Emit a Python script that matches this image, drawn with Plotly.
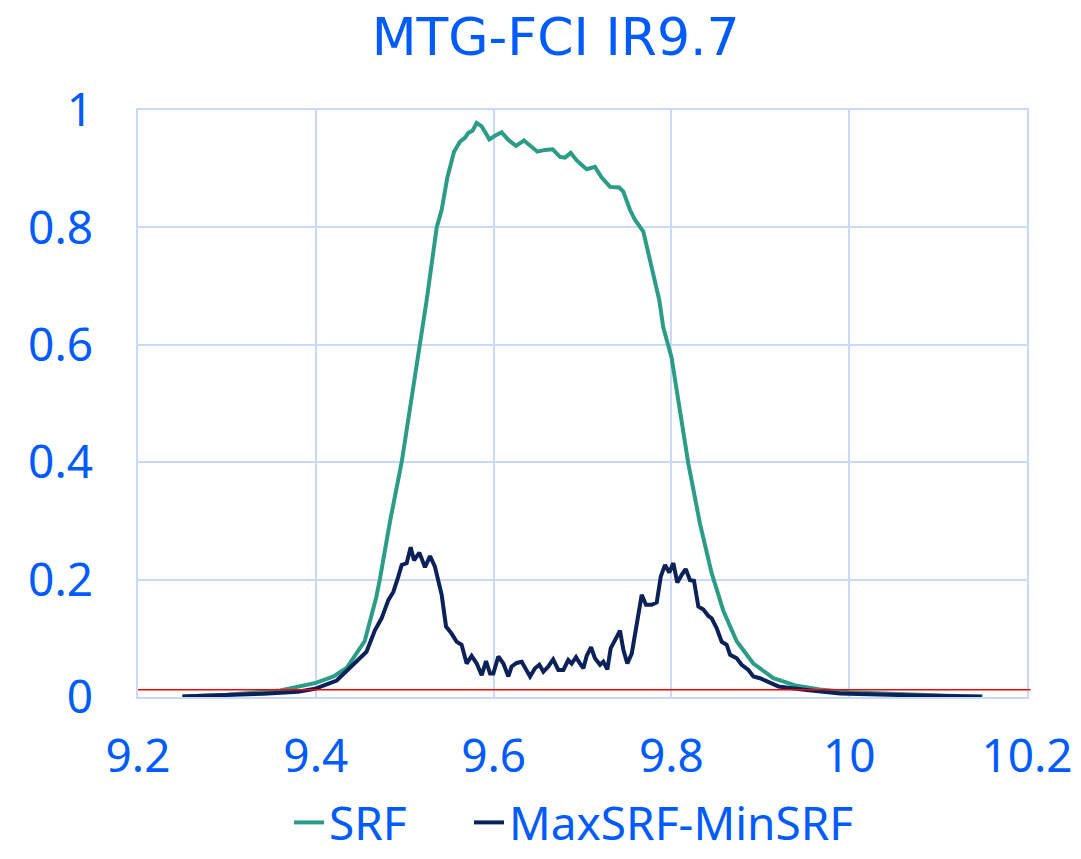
import plotly.graph_objects as go

# SRF (green) digitised
srf_wl = [9.25, 9.30, 9.36, 9.40, 9.42, 9.435, 9.455, 9.468, 9.472, 9.4836, 9.4966, 9.507,
          9.5165, 9.5247, 9.536, 9.5416, 9.548, 9.551, 9.5555, 9.5622, 9.568, 9.5716, 9.5765,
          9.581, 9.5866, 9.5903, 9.5952, 9.6016, 9.609, 9.6166, 9.6252, 9.6342, 9.641, 9.6492,
          9.6578, 9.6665, 9.6747, 9.6803, 9.6867, 9.6935, 9.7047, 9.714, 9.7216, 9.731, 9.7414,
          9.7459, 9.7534, 9.759, 9.7684, 9.775, 9.7864, 9.7908, 9.8002, 9.8096, 9.819, 9.8322,
          9.8453, 9.8584, 9.8734, 9.8922, 9.9147, 9.941, 9.967, 10.0, 10.03, 10.07, 10.11, 10.15]
srf_val = [0.001, 0.004, 0.011, 0.024, 0.035, 0.05, 0.095, 0.17, 0.2, 0.3, 0.4, 0.5,
           0.6, 0.676, 0.8, 0.83, 0.885, 0.903, 0.929, 0.946, 0.953, 0.961, 0.965,
           0.978, 0.972, 0.963, 0.950, 0.956, 0.962, 0.949, 0.939, 0.948, 0.939, 0.929,
           0.932, 0.933, 0.920, 0.919, 0.927, 0.914, 0.899, 0.903, 0.885, 0.869, 0.868,
           0.861, 0.830, 0.813, 0.793, 0.750, 0.676, 0.630, 0.578, 0.488, 0.398, 0.295,
           0.211, 0.147, 0.095, 0.057, 0.032, 0.019, 0.013, 0.008, 0.006, 0.004, 0.002, 0.001]

# MaxSRF-MinSRF (navy) digitised
diff_wl = [9.25, 9.30, 9.341, 9.38, 9.399, 9.4235, 9.4385, 9.4497, 9.457, 9.4666, 9.474, 9.4816,
           9.4872, 9.4928, 9.4966, 9.5022, 9.5067, 9.5105, 9.5165, 9.5228, 9.5285, 9.534, 9.5416,
           9.5465, 9.5528, 9.5585, 9.564, 9.5697, 9.5753, 9.581, 9.5866, 9.5915, 9.596, 9.5997,
           9.6053, 9.611, 9.6166, 9.6203, 9.626, 9.6316, 9.637, 9.641, 9.6466, 9.6515, 9.656,
           9.6616, 9.667, 9.6728, 9.6785, 9.684, 9.6878, 9.6927, 9.6972, 9.701, 9.7047, 9.7096,
           9.714, 9.7197, 9.7234, 9.728, 9.7317, 9.7366, 9.7422, 9.746, 9.7504, 9.7554, 9.761,
           9.7666, 9.7714, 9.7778, 9.7835, 9.788, 9.7928, 9.7976, 9.8022, 9.8066, 9.8116, 9.8161,
           9.8209, 9.8254, 9.8303, 9.836, 9.8416, 9.8453, 9.851, 9.8566, 9.8622, 9.866, 9.8735,
           9.879, 9.8866, 9.8922, 9.8997, 9.911, 9.9204, 9.952, 9.9897, 10.065, 10.149]
diff_val = [0.001, 0.003, 0.0055, 0.009, 0.014, 0.028, 0.051, 0.066, 0.077, 0.114, 0.134, 0.165,
            0.179, 0.205, 0.225, 0.228, 0.255, 0.233, 0.246, 0.221, 0.240, 0.222, 0.174,
            0.120, 0.108, 0.094, 0.089, 0.057, 0.070, 0.057, 0.037, 0.061, 0.040, 0.040,
            0.069, 0.057, 0.035, 0.052, 0.058, 0.060, 0.046, 0.035, 0.049, 0.055, 0.043,
            0.052, 0.064, 0.046, 0.046, 0.063, 0.057, 0.068, 0.057, 0.049, 0.070, 0.085,
            0.066, 0.055, 0.060, 0.047, 0.083, 0.097, 0.113, 0.080, 0.057, 0.074, 0.120,
            0.174, 0.157, 0.157, 0.161, 0.205, 0.225, 0.212, 0.228, 0.195, 0.208, 0.218,
            0.199, 0.198, 0.154, 0.149, 0.138, 0.134, 0.117, 0.094, 0.089, 0.072, 0.066,
            0.055, 0.046, 0.035, 0.032, 0.024, 0.018, 0.012, 0.006, 0.003, 0.0005]

threshold = 0.0125
x_ticks = [9.2, 9.4, 9.6, 9.8, 10.0, 10.2]
x_labels = ["9.2", "9.4", "9.6", "9.8", "10", "10.2"]
y_ticks = [0, 0.2, 0.4, 0.6, 0.8, 1.0]
y_labels = ["0", "0.2", "0.4", "0.6", "0.8", "1"]

BLUE = "#005BFF"
GRID = "#C8D9FA"
FONT = "Noto Sans"

fig = go.Figure()
fig.add_trace(go.Scatter(x=srf_wl, y=srf_val, mode="lines", name="SRF", legend="legend",
                         line=dict(color="#2B9C86", width=4)))
fig.add_trace(go.Scatter(x=diff_wl, y=diff_val, mode="lines", name="MaxSRF-MinSRF",
                         legend="legend2", line=dict(color="#0B2159", width=4)))

fig.add_shape(type="line", xref="paper", yref="y", x0=0, x1=1.004,
              y0=threshold, y1=threshold, line=dict(color="#FF0000", width=1.5))

leg_common = dict(orientation="h", xref="container", yref="container",
                  xanchor="left", y=0.0, yanchor="bottom",
                  font=dict(size=46, color=BLUE, family=FONT), bgcolor="rgba(0,0,0,0)",
                  itemwidth=30)

fig.update_layout(
    width=1081, height=859,
    margin=dict(l=138, r=54, t=110, b=162, autoexpand=False),
    paper_bgcolor="white", plot_bgcolor="white",
    font=dict(family=FONT, color=BLUE, size=46),
    title=dict(text="MTG-FCI IR9.7", x=0.514, xanchor="center", y=0.957, yanchor="middle",
               xref="container", yref="container",
               font=dict(size=52, color=BLUE, family="DejaVu Sans")),
    showlegend=True,
    legend=dict(leg_common, x=289 / 1081),
    legend2=dict(leg_common, x=469 / 1081),
    xaxis=dict(range=[9.2, 10.2], tickvals=x_ticks, ticktext=x_labels, automargin=False,
               showgrid=True, gridcolor=GRID, gridwidth=1.5, zeroline=False,
               showline=True, linecolor=GRID, linewidth=1.5, mirror=True,
               ticks="", ticklabelstandoff=18, tickfont=dict(size=46, color=BLUE, family=FONT)),
    yaxis=dict(range=[0, 1], tickvals=y_ticks, ticktext=y_labels, automargin=False,
               showgrid=True, gridcolor=GRID, gridwidth=1.5, zeroline=False,
               showline=True, linecolor=GRID, linewidth=1.5, mirror=True,
               ticks="", ticklabelstandoff=34, tickfont=dict(size=46, color=BLUE, family=FONT)),
)

fig.write_html("out.html")
